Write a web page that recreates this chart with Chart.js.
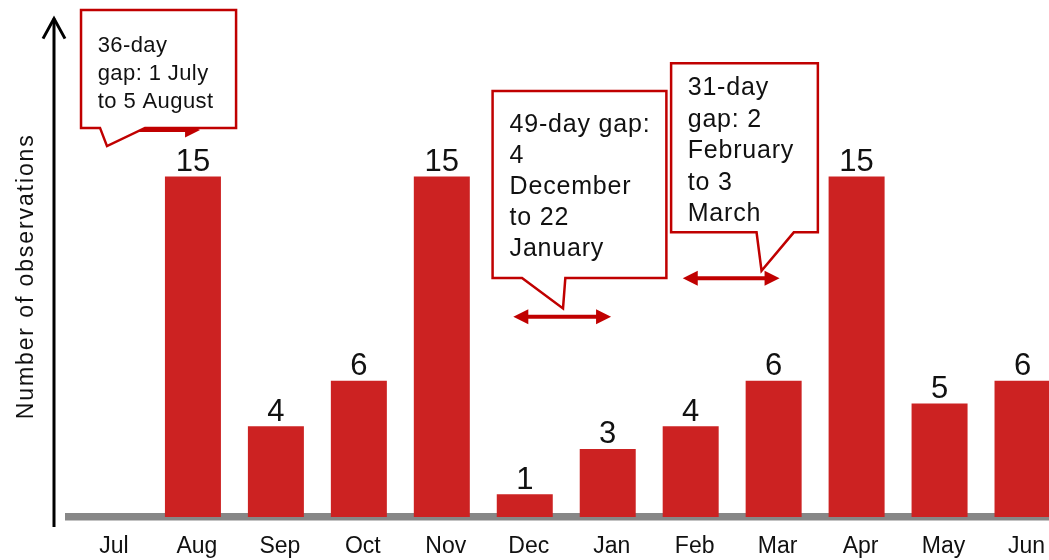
<!DOCTYPE html>
<html>
<head>
<meta charset="utf-8">
<script src="https://cdn.jsdelivr.net/npm/chart.js@4.4.1/dist/chart.umd.min.js"></script>
<style>
  html, body { margin: 0; padding: 0; background: #fff; overflow: hidden; }
  #wrap { width: 1064px; height: 560px; }
</style>
</head>
<body>
<div id="wrap"><canvas id="c" width="1064" height="560"></canvas></div>
<script>
// ---- data ----
const months = ['Jul', 'Aug', 'Sep', 'Oct', 'Nov', 'Dec', 'Jan', 'Feb', 'Mar', 'Apr', 'May', 'Jun'];
const observations = [null, 15, 4, 6, 15, 1, 3, 4, 6, 15, 5, 6];
const axisTitle = 'Number of observations';
const gapNotes = [
  ['36-day', 'gap: 1 July', 'to 5 August'],
  ['49-day gap:', '4', 'December', 'to 22', 'January'],
  ['31-day', 'gap: 2', 'February', 'to 3', 'March']
];

// ---- callout placement, in category-index (x) and count (y) units ----
// box: [left, right, top, bottom]; tail: [baseLeft, tipX, tipY, baseRight]; arrow: [from, to, level]
const gapLayout = [
  { box: [-0.349, 1.520, 22.33, 17.14], tail: [-0.120, -0.036, 16.34, 0.422], arrow: [-0.120, 1.086, 17.05],
    font: 22, spacing: 0.4, padX: 16.7, firstLine: 41.7, lead: 28 },
  { box: [4.612, 6.707, 18.77, 10.53], tail: [4.967, 5.461, 9.19, 5.489], arrow: [4.862, 6.040, 8.82],
    font: 25, spacing: 0.8, padX: 17, firstLine: 41.5, lead: 31 },
  { box: [6.764, 8.533, 19.99, 12.54], tail: [7.794, 7.854, 10.85, 8.243], arrow: [6.904, 8.071, 10.52],
    font: 25, spacing: 0.8, padX: 16.6, firstLine: 31.7, lead: 31.6 }
];

const FAMILY = "'Liberation Sans', Arial, Helvetica, sans-serif";
const BAR_RED = '#CC2222';
const NOTE_RED = '#C00000';

function doubleArrow(ctx, x1, x2, y) {
  const head = 15, half = 7.5;
  ctx.save();
  ctx.strokeStyle = NOTE_RED;
  ctx.fillStyle = NOTE_RED;
  ctx.lineWidth = 4;
  ctx.beginPath();
  ctx.moveTo(x1 + head - 2, y);
  ctx.lineTo(x2 - head + 2, y);
  ctx.stroke();
  ctx.beginPath();
  ctx.moveTo(x1, y); ctx.lineTo(x1 + head, y - half); ctx.lineTo(x1 + head, y + half); ctx.closePath();
  ctx.fill();
  ctx.beginPath();
  ctx.moveTo(x2, y); ctx.lineTo(x2 - head, y - half); ctx.lineTo(x2 - head, y + half); ctx.closePath();
  ctx.fill();
  ctx.restore();
}

// value labels above the bars
const valueLabels = {
  id: 'valueLabels',
  afterDatasetsDraw(chart) {
    const ctx = chart.ctx;
    const meta = chart.getDatasetMeta(0);
    ctx.save();
    ctx.fillStyle = '#111';
    ctx.font = '31px ' + FAMILY;
    ctx.textAlign = 'center';
    ctx.textBaseline = 'alphabetic';
    meta.data.forEach((bar, i) => {
      const v = observations[i];
      if (v === null || v === undefined) return;
      ctx.fillText(String(v), bar.x, bar.y - 5.5);
    });
    ctx.restore();
  }
};

// gap callouts with their double-headed arrows
const gapCallouts = {
  id: 'gapCallouts',
  afterDraw(chart) {
    const { ctx, scales: { x, y } } = chart;
    const X = v => x.getPixelForValue(v);
    const Y = v => y.getPixelForValue(v);
    gapLayout.forEach((g, i) => {
      doubleArrow(ctx, X(g.arrow[0]), X(g.arrow[1]), Y(g.arrow[2]));
      const l = X(g.box[0]), r = X(g.box[1]), t = Y(g.box[2]), b = Y(g.box[3]);
      const bl = X(g.tail[0]), tx = X(g.tail[1]), ty = Y(g.tail[2]), br = X(g.tail[3]);
      ctx.save();
      ctx.beginPath();
      ctx.moveTo(l, t);
      ctx.lineTo(r, t);
      ctx.lineTo(r, b);
      ctx.lineTo(br, b);
      ctx.lineTo(tx, ty);
      ctx.lineTo(bl, b);
      ctx.lineTo(l, b);
      ctx.closePath();
      ctx.fillStyle = '#fff';
      ctx.fill();
      ctx.lineWidth = 2.5;
      ctx.lineJoin = 'miter';
      ctx.strokeStyle = NOTE_RED;
      ctx.stroke();
      ctx.fillStyle = '#111';
      ctx.font = g.font + 'px ' + FAMILY;
      ctx.letterSpacing = g.spacing + 'px';
      ctx.textAlign = 'left';
      ctx.textBaseline = 'alphabetic';
      gapNotes[i].forEach((line, k) => {
        ctx.fillText(line, l + g.padX, t + g.firstLine + k * g.lead);
      });
      ctx.restore();
    });
  }
};

// vertical axis drawn as an arrow, with its rotated title
const arrowAxis = {
  id: 'arrowAxis',
  afterDraw(chart) {
    const { ctx, chartArea } = chart;
    const ax = chartArea.left - 14.5;
    ctx.save();
    ctx.strokeStyle = '#000';
    ctx.lineWidth = 3;
    ctx.beginPath();
    ctx.moveTo(ax, chartArea.bottom + 10);
    ctx.lineTo(ax, chartArea.top + 1);
    ctx.stroke();
    ctx.beginPath();
    ctx.moveTo(ax - 11, chartArea.top + 21);
    ctx.lineTo(ax, chartArea.top + 1);
    ctx.lineTo(ax + 11, chartArea.top + 21);
    ctx.stroke();

    ctx.translate(33, (chartArea.top + chartArea.bottom) / 2 + 9);
    ctx.rotate(-Math.PI / 2);
    ctx.fillStyle = '#111';
    ctx.font = '23px ' + FAMILY;
    ctx.letterSpacing = '1.9px';
    ctx.textAlign = 'center';
    ctx.textBaseline = 'alphabetic';
    ctx.fillText(axisTitle, 0, 0);
    ctx.restore();
  }
};

new Chart(document.getElementById('c'), {
  type: 'bar',
  data: {
    labels: months,
    datasets: [{
      data: observations,
      backgroundColor: BAR_RED,
      borderWidth: 0,
      barPercentage: 0.675,
      categoryPercentage: 1
    }]
  },
  options: {
    responsive: false,
    devicePixelRatio: 1,
    animation: false,
    layout: { padding: { left: 68.5, top: 17.6, right: 0, bottom: 0 } },
    plugins: { legend: { display: false }, tooltip: { enabled: false }, title: { display: false } },
    scales: {
      x: {
        z: 1,
        offset: true,
        grid: { display: false, drawTicks: false },
        border: { display: true, color: '#878787', width: 7.5 },
        ticks: {
          color: '#111',
          font: { family: FAMILY, size: 23 },
          padding: 16,
          labelOffset: 4,
          maxRotation: 0,
          autoSkip: false
        },
        afterFit(scale) { scale.height = 43; }
      },
      y: {
        display: false,
        min: 0,
        max: 22
      }
    }
  },
  plugins: [valueLabels, gapCallouts, arrowAxis]
});
</script>
</body>
</html>
